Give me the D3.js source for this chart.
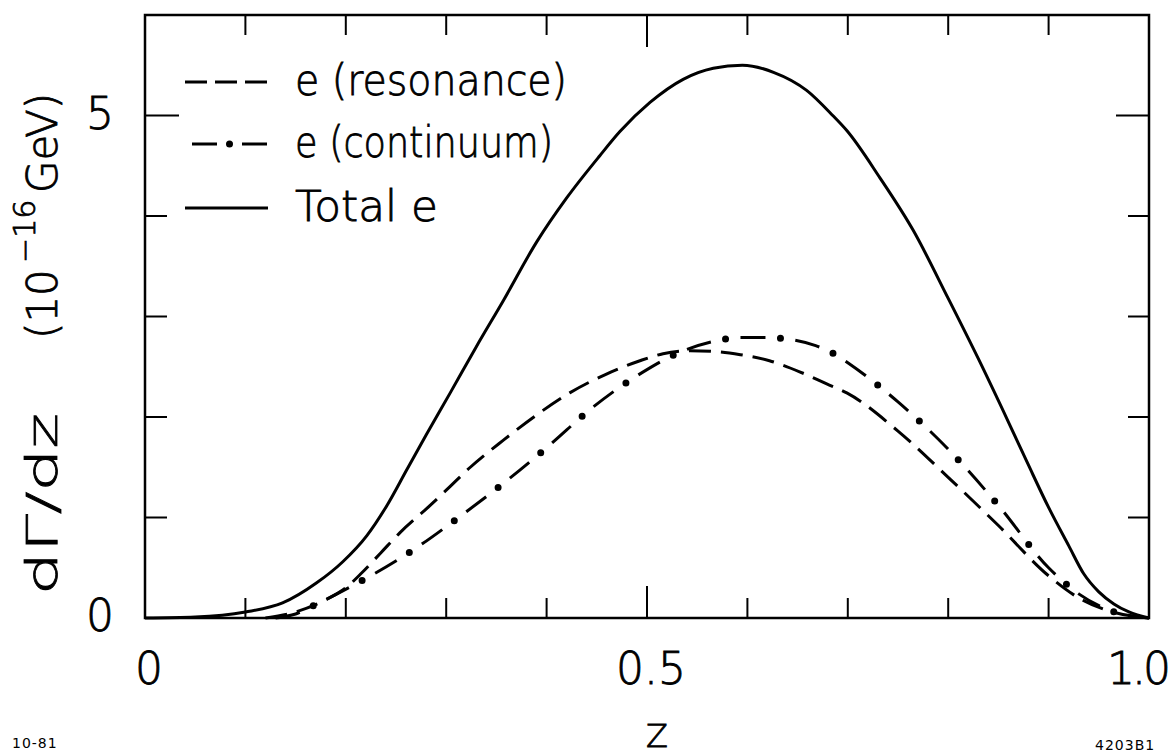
<!DOCTYPE html>
<html>
<head>
<meta charset="utf-8">
<script src="https://cdn.jsdelivr.net/npm/d3@7"></script>
<style>
  body { margin: 0; background: #fff; }
  svg { display: block; }
  text { font-family: "DejaVu Sans ExtraLight", "DejaVu Sans", sans-serif; font-weight: 200; fill: #000; stroke: #000; stroke-width: 0.8; }
  text.note { font-family: "DejaVu Sans", sans-serif; font-weight: normal; stroke: none; }
</style>
</head>
<body>
<div id="chart"></div>
<script>
// chart values: [z, dGamma/dz] in units of 1e-16 GeV

var totalCurve = [
  [0, 0], [0.05, 0.01], [0.1, 0.06], [0.137, 0.15], [0.171, 0.35], [0.197, 0.56],
  [0.221, 0.82], [0.241, 1.12], [0.261, 1.48], [0.28, 1.82], [0.304, 2.24], [0.33, 2.7],
  [0.357, 3.16], [0.39, 3.74], [0.42, 4.18], [0.453, 4.6], [0.473, 4.84], [0.503, 5.13],
  [0.536, 5.36], [0.566, 5.47], [0.595, 5.5], [0.626, 5.43], [0.659, 5.25], [0.685, 5.0],
  [0.699, 4.85], [0.732, 4.38], [0.765, 3.86], [0.8, 3.18], [0.83, 2.58], [0.86, 1.95],
  [0.88, 1.52], [0.9, 1.1], [0.92, 0.72], [0.935, 0.44], [0.95, 0.26], [0.965, 0.14],
  [0.98, 0.06], [1.0, 0]
];

var resonanceCurve = [
  [0.12, 0], [0.15, 0.06], [0.18, 0.18], [0.2, 0.3], [0.216, 0.45], [0.235, 0.65],
  [0.254, 0.85], [0.284, 1.12], [0.304, 1.31], [0.324, 1.5], [0.357, 1.77], [0.39, 2.02],
  [0.423, 2.24], [0.458, 2.42], [0.493, 2.56], [0.516, 2.63], [0.543, 2.66], [0.57, 2.65],
  [0.593, 2.62], [0.622, 2.56], [0.652, 2.45], [0.679, 2.33], [0.699, 2.24], [0.75, 1.86],
  [0.8, 1.4], [0.85, 0.92], [0.9, 0.42], [0.93, 0.2], [0.96, 0.07], [1.0, 0]
];

var continuumCurve = [
  [0.13, 0], [0.15, 0.04], [0.171, 0.14], [0.197, 0.27], [0.223, 0.41], [0.272, 0.71],
  [0.315, 1.02], [0.357, 1.34], [0.403, 1.72], [0.444, 2.08], [0.49, 2.41], [0.534, 2.65],
  [0.565, 2.75], [0.592, 2.79], [0.62, 2.79], [0.644, 2.77], [0.668, 2.71], [0.688, 2.62],
  [0.7, 2.54], [0.75, 2.15], [0.8, 1.68], [0.85, 1.12], [0.9, 0.5], [0.93, 0.24],
  [0.96, 0.08], [1.0, 0]
];

var legendLabels = ["e (resonance)", "e (continuum)", "Total e"];

var xTicks = [0.1, 0.2, 0.3, 0.4, 0.5, 0.6, 0.7, 0.8, 0.9];
var yTicks = [1, 2, 3, 4, 5];
var xLabelValues = [0, 0.5, 1.0];
var xLabelText = ["0", "0.5", "1.0"];
var yLabelValues = [0, 5];
var yLabelText = ["0", "5"];

// svg area

var svgWidth = 1171;
var svgHeight = 755;

var margin = { top: 15, right: 22, bottom: 137, left: 145 };
var width = svgWidth - margin.left - margin.right;
var height = svgHeight - margin.top - margin.bottom;

var svg = d3.select("#chart")
  .append("svg")
  .attr("width", svgWidth)
  .attr("height", svgHeight);

var g = svg.append("g")
  .attr("transform", `translate(${margin.left}, ${margin.top})`);

// scales
var x = d3.scaleLinear().domain([0, 1]).range([0, width]);
var y = d3.scaleLinear().domain([0, 6]).range([height, 0]);

// frame
g.append("rect")
  .attr("x", 0).attr("y", 0)
  .attr("width", width).attr("height", height)
  .attr("fill", "none")
  .attr("stroke", "#000")
  .attr("stroke-width", 2.5);

// ticks, inward on all four sides; the 0.5 and 5 ticks are longer
function tickLen(major) { return major ? 32 : 20; }

g.selectAll(".xtick-b").data(xTicks).enter().append("line")
  .attr("x1", d => x(d)).attr("x2", d => x(d))
  .attr("y1", height).attr("y2", d => height - tickLen(d === 0.5))
  .attr("stroke", "#000").attr("stroke-width", 2);

g.selectAll(".xtick-t").data(xTicks).enter().append("line")
  .attr("x1", d => x(d)).attr("x2", d => x(d))
  .attr("y1", 0).attr("y2", d => tickLen(d === 0.5))
  .attr("stroke", "#000").attr("stroke-width", 2);

g.selectAll(".ytick-l").data(yTicks).enter().append("line")
  .attr("y1", d => y(d)).attr("y2", d => y(d))
  .attr("x1", 0).attr("x2", d => tickLen(d === 5) + 2)
  .attr("stroke", "#000").attr("stroke-width", 2);

g.selectAll(".ytick-r").data(yTicks).enter().append("line")
  .attr("y1", d => y(d)).attr("y2", d => y(d))
  .attr("x1", width).attr("x2", d => width - tickLen(d === 5) - 1)
  .attr("stroke", "#000").attr("stroke-width", 2);

// tick labels
g.selectAll(".xlab").data(xLabelValues).enter().append("text")
  .attr("x", (d, i) => i === 2 ? x(d) + 19 : x(d) + 4)
  .attr("y", height + 66)
  .attr("text-anchor", (d, i) => i === 2 ? "end" : "middle")
  .attr("letter-spacing", (d, i) => i === 2 ? -3 : 0)
  .attr("font-size", 44)
  .text((d, i) => xLabelText[i]);

g.selectAll(".ylab").data(yLabelValues).enter().append("text")
  .attr("x", -45)
  .attr("y", d => y(d) + 13)
  .attr("text-anchor", "middle")
  .attr("font-size", 44)
  .text((d, i) => yLabelText[i]);

// axis titles
svg.append("text")
  .attr("x", margin.left + x(0.5) + 10)
  .attr("y", 747)
  .attr("text-anchor", "middle")
  .attr("font-size", 32)
  .text("Z");

var yTitle = svg.append("text")
  .attr("transform", "translate(57, 595) rotate(-90)")
  .attr("font-size", 42);
yTitle.append("tspan").attr("x", 0).attr("textLength", 182).attr("lengthAdjust", "spacingAndGlyphs").text("dΓ/dz");
yTitle.append("tspan").attr("x", 256).text("(10");
yTitle.append("tspan").attr("x", 332).attr("dy", -22).attr("font-size", 30).text("−16");
yTitle.append("tspan").attr("x", 402).attr("dy", 22).text("GeV)");

// corner notes
svg.append("text").attr("class", "note").attr("x", 12).attr("y", 748).attr("font-size", 14)
  .attr("letter-spacing", 1).text("10-81");
svg.append("text").attr("class", "note").attr("x", 1095).attr("y", 750).attr("font-size", 14)
  .attr("letter-spacing", 1).text("4203B1");

// curves
var line = d3.line()
  .x(d => x(d[0]))
  .y(d => y(d[1]))
  .curve(d3.curveMonotoneX);

g.append("path")
  .datum(totalCurve)
  .attr("d", line)
  .attr("fill", "none")
  .attr("stroke", "#000")
  .attr("stroke-width", 3);

g.append("path")
  .datum(resonanceCurve)
  .attr("d", line)
  .attr("fill", "none")
  .attr("stroke", "#000")
  .attr("stroke-width", 3)
  .attr("stroke-dasharray", "22,10");

// dash-dot: dashes on one path, round dots on a second copy
g.append("path")
  .datum(continuumCurve)
  .attr("d", line)
  .attr("fill", "none")
  .attr("stroke", "#000")
  .attr("stroke-width", 3)
  .attr("stroke-dasharray", "25,30");

g.append("path")
  .datum(continuumCurve)
  .attr("d", line)
  .attr("fill", "none")
  .attr("stroke", "#000")
  .attr("stroke-width", 7)
  .attr("stroke-linecap", "round")
  .attr("stroke-dasharray", "0,55")
  .attr("stroke-dashoffset", -40);

// legend
var legendY = [82, 144, 208];
var legendWidths = [272, 258, 143];
var legendStyles = [
  { dash: "22,8", dots: false },
  { dash: "25,25", dots: true },
  { dash: null, dots: false }
];

var legend = svg.append("g");
legendLabels.forEach(function(label, i) {
  var ly = legendY[i];
  var ln = legend.append("line")
    .attr("x1", 185).attr("x2", 268)
    .attr("y1", ly).attr("y2", ly)
    .attr("stroke", "#000").attr("stroke-width", 3);
  if (legendStyles[i].dash) ln.attr("stroke-dasharray", legendStyles[i].dash);
  if (legendStyles[i].dots) {
    ln.attr("x1", 192).attr("x2", 267);
    legend.append("circle").attr("cx", 229.5).attr("cy", ly).attr("r", 3.5).attr("fill", "#000");
  }
  legend.append("text")
    .attr("x", 295)
    .attr("y", ly + 13)
    .attr("font-size", 42)
    .attr("textLength", legendWidths[i])
    .attr("lengthAdjust", "spacingAndGlyphs")
    .text(label);
});
</script>
</body>
</html>
